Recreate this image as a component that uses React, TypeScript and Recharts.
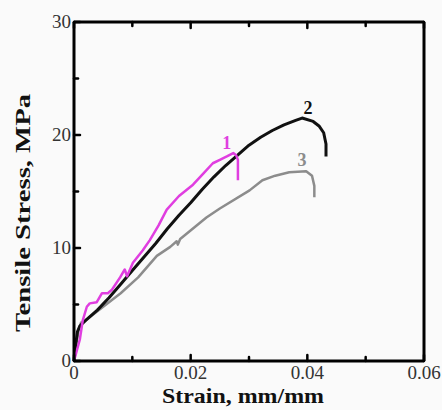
import React from "react";
import { LineChart, Line, XAxis, YAxis, ReferenceDot } from "recharts";

type Pt = { e: number; s: number };

// strain (mm/mm), stress (MPa)
const strain1 = [0, 0.001, 0.0015, 0.0022, 0.0027, 0.0039, 0.0048, 0.0058, 0.0065, 0.0079, 0.0087, 0.0091, 0.0101, 0.0118, 0.013, 0.0145, 0.0159, 0.018, 0.0204, 0.0222, 0.0238, 0.025, 0.0262, 0.0273, 0.0278, 0.0281, 0.0281];
const stress1 = [0, 1.9, 3.6, 4.8, 5.1, 5.2, 6.0, 6.0, 6.3, 7.4, 8.1, 7.5, 8.7, 9.8, 10.7, 12.0, 13.4, 14.6, 15.6, 16.6, 17.5, 17.8, 18.1, 18.4, 18.2, 17.8, 16.0];

const strain2 = [0, 0.0003, 0.0006, 0.001, 0.002, 0.004, 0.006, 0.008, 0.01, 0.012, 0.014, 0.016, 0.018, 0.02, 0.022, 0.024, 0.026, 0.028, 0.03, 0.032, 0.034, 0.036, 0.038, 0.0391, 0.041, 0.042, 0.0428, 0.0432, 0.0432];
const stress2 = [0, 1.5, 2.6, 3.1, 3.6, 4.5, 5.6, 6.8, 8.0, 9.2, 10.4, 11.7, 12.9, 14.0, 15.2, 16.3, 17.3, 18.2, 19.1, 19.8, 20.4, 20.9, 21.3, 21.5, 21.2, 20.8, 20.2, 19.2, 18.1];

const strain3 = [0, 0.0004, 0.0008, 0.0012, 0.002, 0.005, 0.008, 0.011, 0.0142, 0.0165, 0.0176, 0.0178, 0.0182, 0.0227, 0.025, 0.0301, 0.0323, 0.0345, 0.0369, 0.0398, 0.0408, 0.0412, 0.0412];
const stress3 = [0, 1.5, 2.8, 3.4, 3.6, 4.8, 6.0, 7.4, 9.3, 10.1, 10.6, 10.3, 10.8, 12.7, 13.5, 15.1, 16.0, 16.4, 16.7, 16.8, 16.4, 15.5, 14.5];

const xTicks = [0, 0.01, 0.02, 0.03, 0.04, 0.05, 0.06];
const yTicks = [0, 5, 10, 15, 20, 25, 30];
const xLabels: Record<number, string> = { 0: "0", 2: "0.02", 4: "0.04", 6: "0.06" };
const yLabels: Record<number, string> = { 0: "0", 10: "10", 20: "20", 30: "30" };

const toPts = (e: number[], s: number[]): Pt[] => e.map((v, i) => ({ e: v, s: s[i] }));
const curve1 = toPts(strain1, stress1);
const curve2 = toPts(strain2, stress2);
const curve3 = toPts(strain3, stress3);

const FONT = "'Liberation Serif', 'DejaVu Serif', serif";

// small inward tick marks on all four sides, labels only bottom/left
const makeTick = (side: "b" | "t" | "l" | "r") => (props: any) => {
  const { x, y, payload } = props;
  const v = payload.value as number;
  const major = side === "b" || side === "t" ? Math.round(v * 100) % 2 === 0 : v % 10 === 0;
  const len = major ? 6 : 4;
  let line;
  if (side === "b") line = <line x1={x} x2={x} y1={y} y2={y - len} />;
  else if (side === "t") line = <line x1={x} x2={x} y1={y} y2={y + len} />;
  else if (side === "l") line = <line x1={x} x2={x + len} y1={y} y2={y} />;
  else line = <line x1={x} x2={x - len} y1={y} y2={y} />;
  let label = null;
  if (side === "b") {
    const t = xLabels[Math.round(v * 100)];
    if (t) label = <text x={x} y={y + 18} textAnchor="middle" fontSize={19} fill="#333" fontFamily={FONT} stroke="none">{t}</text>;
  } else if (side === "l") {
    const t = yLabels[v];
    if (t) label = <text x={x - 3} y={y + 6} textAnchor="end" fontSize={19} fill="#333" fontFamily={FONT} stroke="none">{t}</text>;
  }
  return (
    <g stroke="#000" strokeWidth={2.5} strokeLinecap="round">
      {line}
      {label}
    </g>
  );
};

const curveLabel = (text: string, color: string) => (props: any) => {
  const { viewBox } = props;
  return (
    <text x={viewBox.cx ?? viewBox.x} y={(viewBox.cy ?? viewBox.y) + 6} textAnchor="middle" fontSize={18} fontWeight="bold" fill={color} fontFamily={FONT}>
      {text}
    </text>
  );
};

export default function App() {
  return (
    <div style={{ position: "absolute", left: 0, top: 0, width: 442, height: 410, background: "#fafafa" }}>
      <LineChart width={442} height={410} data={curve2} margin={{ top: 21, right: 17, bottom: 48, left: 73 }}>
        <XAxis xAxisId="b" dataKey="e" type="number" domain={[0, 0.06]} ticks={xTicks} interval={0} height={1} tickSize={0} tickMargin={0}
          axisLine={{ stroke: "#000", strokeWidth: 3 }} tick={makeTick("b")}
          label={{ content: () => (
            <text x={243} y={403} textAnchor="middle" fontSize={21} fontWeight="bold" fill="#111" fontFamily={FONT} textLength={162} lengthAdjust="spacingAndGlyphs">Strain, mm/mm</text>
          ) }} />
        <XAxis xAxisId="t" orientation="top" dataKey="e" type="number" domain={[0, 0.06]} ticks={xTicks} interval={0} height={1} tickSize={0} tickMargin={0}
          axisLine={{ stroke: "#000", strokeWidth: 3 }} tick={makeTick("t")} />
        <YAxis yAxisId="l" type="number" domain={[0, 30]} ticks={yTicks} interval={0} width={1} tickSize={0} tickMargin={0}
          axisLine={{ stroke: "#000", strokeWidth: 3 }} tick={makeTick("l")}
          label={{ content: () => (
            <text x={30} y={213} transform="rotate(-90 30 213)" textAnchor="middle" fontSize={21} fontWeight="bold" fill="#111" fontFamily={FONT} textLength={238} lengthAdjust="spacingAndGlyphs">Tensile Stress, MPa</text>
          ) }} />
        <YAxis yAxisId="r" orientation="right" type="number" domain={[0, 30]} ticks={yTicks} interval={0} width={1} tickSize={0} tickMargin={0}
          axisLine={{ stroke: "#000", strokeWidth: 3 }} tick={makeTick("r")} />
        <Line xAxisId="b" yAxisId="l" data={curve3} dataKey="s" stroke="#8c8c8c" strokeWidth={2.5} dot={false} isAnimationActive={false} strokeLinejoin="round" />
        <Line xAxisId="b" yAxisId="l" data={curve2} dataKey="s" stroke="#111" strokeWidth={3} dot={false} isAnimationActive={false} strokeLinejoin="round" />
        <Line xAxisId="b" yAxisId="l" data={curve1} dataKey="s" stroke="#e03ee0" strokeWidth={2.5} dot={false} isAnimationActive={false} strokeLinejoin="round" />
        <ReferenceDot xAxisId="b" yAxisId="l" x={0.0262} y={19.3} r={0} fill="none" stroke="none" label={{ content: curveLabel("1", "#e03ee0") }} />
        <ReferenceDot xAxisId="b" yAxisId="l" x={0.0401} y={22.4} r={0} fill="none" stroke="none" label={{ content: curveLabel("2", "#111") }} />
        <ReferenceDot xAxisId="b" yAxisId="l" x={0.0391} y={17.8} r={0} fill="none" stroke="none" label={{ content: curveLabel("3", "#8c8c8c") }} />
      </LineChart>
    </div>
  );
}
